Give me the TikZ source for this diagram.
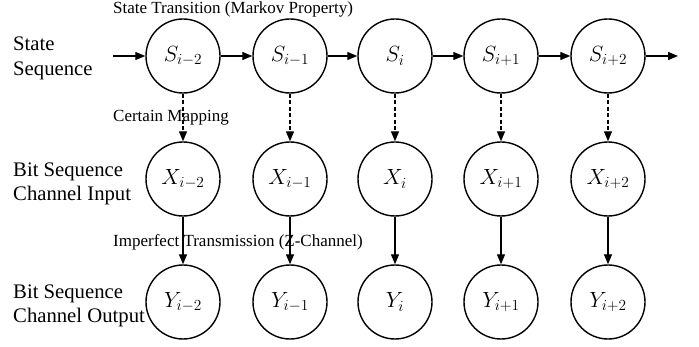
\RequirePackage{fix-cm}
\documentclass[tikz,border=0pt]{standalone}
\usepackage{fontspec}
\setmainfont{Liberation Serif}
\usetikzlibrary{arrows.meta}
\tikzset{
  st/.style={circle, draw, line width=1.4pt, minimum size=74pt, inner sep=0pt, font=\fontsize{22}{24}\selectfont},
  lbl/.style={anchor=west, align=left, inner sep=0pt, font=\fontsize{20.7}{24.5}\selectfont},
  sml/.style={anchor=west, inner sep=0pt, font=\fontsize{17}{19}\selectfont},
  arr/.style={line width=1.3pt, -{Triangle[length=10pt,width=8pt]}},
  darr/.style={arr, dash pattern=on 4pt off 2.5pt}
}
\begin{document}
\begin{tikzpicture}[x=1pt,y=-1pt]
\useasboundingbox (0,0) rectangle (699,347);
% left labels
\node[lbl] (l1) at (13,58.5) {State\\Sequence};
\node[lbl] (l2) at (13,184) {Bit Sequence\\Channel Input};
\node[lbl] (l3) at (13,306) {Bit Sequence\\Channel Output};
% small labels
\node[sml] (t1) at (113,9) {State Transition (Markov Property)};
\node[sml] (t2) at (113,118) {Certain Mapping};
\node[sml] (t3) at (113,242) {Imperfect Transmission (Z-Channel)};
% nodes
\node[st] (s1) at (183,56) {$S_{i-2}$};
\node[st] (s2) at (290,56) {$S_{i-1}$};
\node[st] (s3) at (395,56) {$S_{i}$};
\node[st] (s4) at (501,56) {$S_{i+1}$};
\node[st] (s5) at (608,56) {$S_{i+2}$};
\node[st] (x1) at (183,179) {$X_{i-2}$};
\node[st] (x2) at (290,179) {$X_{i-1}$};
\node[st] (x3) at (395,179) {$X_{i}$};
\node[st] (x4) at (501,179) {$X_{i+1}$};
\node[st] (x5) at (608,179) {$X_{i+2}$};
\node[st] (y1) at (183,302) {$Y_{i-2}$};
\node[st] (y2) at (290,302) {$Y_{i-1}$};
\node[st] (y3) at (395,302) {$Y_{i}$};
\node[st] (y4) at (501,302) {$Y_{i+1}$};
\node[st] (y5) at (608,302) {$Y_{i+2}$};
\coordinate (in) at (113,56);
\coordinate (out) at (678,56);
% arrows
\draw[arr] (in) -- (s1);
\draw[arr] (s1) -- (s2);
\draw[arr] (s2) -- (s3);
\draw[arr] (s3) -- (s4);
\draw[arr] (s4) -- (s5);
\draw[arr] (s5) -- (out);
\foreach \i in {1,...,5}{
  \draw[darr] (s\i) -- (x\i);
  \draw[arr] (x\i) -- (y\i);
}
\end{tikzpicture}
\end{document}
